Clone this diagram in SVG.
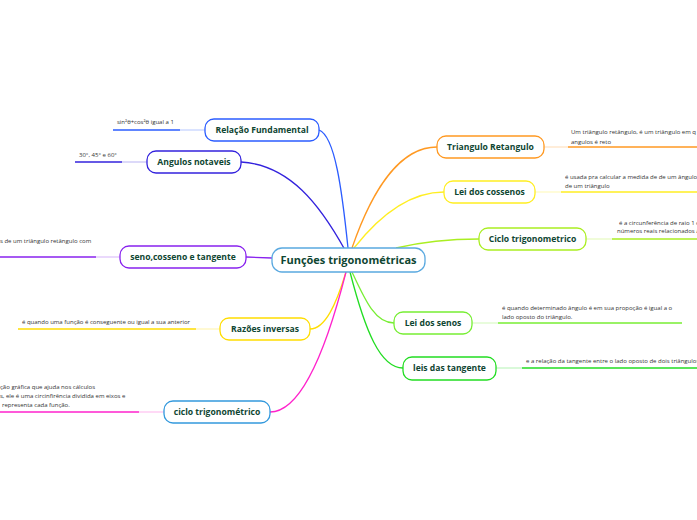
<svg xmlns="http://www.w3.org/2000/svg" width="697" height="520" viewBox="0 0 697 520">
<style>
.n{fill:#fff;stroke-width:1.3}
.t{font-family:"Open Sans","Noto Sans",sans-serif;font-weight:bold;font-size:8.6px;fill:#0f4632;text-anchor:middle}
.c{font-size:11px}
.l{font-family:"Open Sans","Noto Sans",sans-serif;font-size:6px;fill:#333}
.cn{fill:none;stroke-width:1.3}
.th{stroke-width:1.6}
.lt{stroke-width:1;stroke-opacity:0.35}
</style>
<rect width="697" height="520" fill="#fff"/>
<g id="connectors">
<path class="cn" stroke="#2b5cff" d="M348,248 C342,190 335,136 319,130"/>
<path class="cn" stroke="#3322dd" d="M345,250 C320,205 290,165 241,162"/>
<path class="cn" stroke="#8822ee" d="M272,258 L246,257"/>
<path class="cn" stroke="#ffdd00" d="M346,272 C336,305 325,329 310,329"/>
<path class="cn" stroke="#ff22cc" d="M346,272 C330,335 305,412 270,412"/>
<path class="cn" stroke="#ff9922" d="M352,248 C372,190 400,147 437,147"/>
<path class="cn" stroke="#ffee22" d="M354,248 C380,215 410,192 444,192"/>
<path class="cn" stroke="#aaee22" d="M396,248 C430,240 455,239 479,239"/>
<path class="cn" stroke="#77ee33" d="M352,272 C365,300 375,323 394,323"/>
<path class="cn" stroke="#22dd22" d="M350,272 C365,330 380,368 403,368"/>
<!-- leaf lines -->
<line class="lt" stroke="#2b5cff" x1="180" y1="130" x2="205" y2="130"/>
<line class="th" stroke="#2b5cff" x1="113" y1="130" x2="180" y2="130"/>
<line class="lt" stroke="#3322dd" x1="122" y1="162" x2="147" y2="162"/>
<line class="th" stroke="#3322dd" x1="75" y1="162" x2="122" y2="162"/>
<line class="lt" stroke="#8822ee" x1="96" y1="257" x2="120" y2="257"/>
<line class="th" stroke="#8822ee" x1="0" y1="257" x2="96" y2="257"/>
<line class="lt" stroke="#ffdd00" x1="196" y1="329" x2="220" y2="329"/>
<line class="th" stroke="#ffdd00" x1="18" y1="329" x2="196" y2="329"/>
<line class="lt" stroke="#ff22cc" x1="139" y1="412" x2="164" y2="412"/>
<line class="th" stroke="#ff22cc" x1="0" y1="412" x2="139" y2="412"/>
<line class="lt" stroke="#ff9922" x1="544" y1="147" x2="568" y2="147"/>
<line class="th" stroke="#ff9922" x1="568" y1="147" x2="697" y2="147"/>
<line class="lt" stroke="#ffee22" x1="535" y1="192" x2="561" y2="192"/>
<line class="th" stroke="#ffee22" x1="561" y1="192" x2="697" y2="192"/>
<line class="lt" stroke="#aaee22" x1="586" y1="239" x2="612" y2="239"/>
<line class="th" stroke="#aaee22" x1="612" y1="239" x2="697" y2="239"/>
<line class="lt" stroke="#77ee33" x1="472" y1="323" x2="498" y2="323"/>
<line class="th" stroke="#77ee33" x1="498" y1="323" x2="682" y2="323"/>
<line class="lt" stroke="#22dd22" x1="496" y1="368" x2="522" y2="368"/>
<line class="th" stroke="#22dd22" x1="522" y1="368" x2="697" y2="368"/>
</g>
<g id="center">
<rect class="n" stroke="#5aa9e0" x="272" y="248" width="153" height="24" rx="10"/>
<text class="t c" x="348.5" y="264">Funções trigonométricas</text>
</g>
<g id="relacao">
<rect class="n" stroke="#2b5cff" x="205" y="119" width="114" height="22" rx="9"/>
<text class="t" x="262" y="133">Relação Fundamental</text>
<text class="l" x="117" y="124">sin²θ+cos²θ  igual a 1</text>
</g>
<g id="angulos">
<rect class="n" stroke="#3322dd" x="147" y="151" width="94" height="22" rx="9"/>
<text class="t" x="194" y="165">Angulos notaveis</text>
<text class="l" x="79" y="157">30°, 45° e 60°</text>
</g>
<g id="seno">
<rect class="n" stroke="#8822ee" x="120" y="246" width="126" height="22" rx="9"/>
<text class="t" x="183" y="260">seno,cosseno e tangente</text>
<text class="l" x="0" y="243">s de um triângulo retângulo com</text>
</g>
<g id="razoes">
<rect class="n" stroke="#ffdd00" x="220" y="318" width="90" height="22" rx="9"/>
<text class="t" x="265" y="332">Razões inversas</text>
<text class="l" x="22" y="324">é quando uma função é conseguente ou igual a sua anterior</text>
</g>
<g id="ciclo-left">
<rect class="n" stroke="#3399dd" x="164" y="401" width="106" height="22" rx="9"/>
<text class="t" x="217" y="415">ciclo trigonométrico</text>
<text class="l" x="0" y="389">ção gráfica que ajuda nos cálculos</text>
<text class="l" x="0" y="398">s, ele é uma circinfirência dividida em eixos  e</text>
<text class="l" x="2" y="407">representa cada função.</text>
</g>
<g id="triangulo">
<rect class="n" stroke="#ff9922" x="437" y="136" width="107" height="22" rx="9"/>
<text class="t" x="490.5" y="150">Triangulo Retangulo</text>
<text class="l" x="571" y="134">Um triângulo retângulo, é um triângulo em q</text>
<text class="l" x="571" y="144">angulos é reto</text>
</g>
<g id="cossenos">
<rect class="n" stroke="#ffee22" x="444" y="181" width="91" height="22" rx="9"/>
<text class="t" x="489.5" y="195">Lei dos cossenos</text>
<text class="l" x="565" y="179"> é usada pra calcular a medida de de um ângulo</text>
<text class="l" x="565" y="188">de um triângulo</text>
</g>
<g id="ciclo-right">
<rect class="n" stroke="#aaee22" x="479" y="228" width="107" height="22" rx="9"/>
<text class="t" x="532.5" y="242">Ciclo trigonometrico</text>
<text class="l" x="619" y="225">é a circunferência de raio 1 c</text>
<text class="l" x="617" y="233">números reais relacionados à</text>
</g>
<g id="senos">
<rect class="n" stroke="#77ee33" x="394" y="312" width="78" height="22" rx="9"/>
<text class="t" x="433" y="326">Lei dos senos</text>
<text class="l" x="502" y="310">é quando determinado ângulo é em sua propoção é igual a o</text>
<text class="l" x="502" y="319">lado oposto do triângulo.</text>
</g>
<g id="tangente">
<rect class="n" stroke="#22dd22" x="403" y="357" width="93" height="23" rx="9"/>
<text class="t" x="449.5" y="371">leis das tangente</text>
<text class="l" x="526" y="363">e a relação da tangente entre o lado oposto de dois triângulos</text>
</g>
</svg>
